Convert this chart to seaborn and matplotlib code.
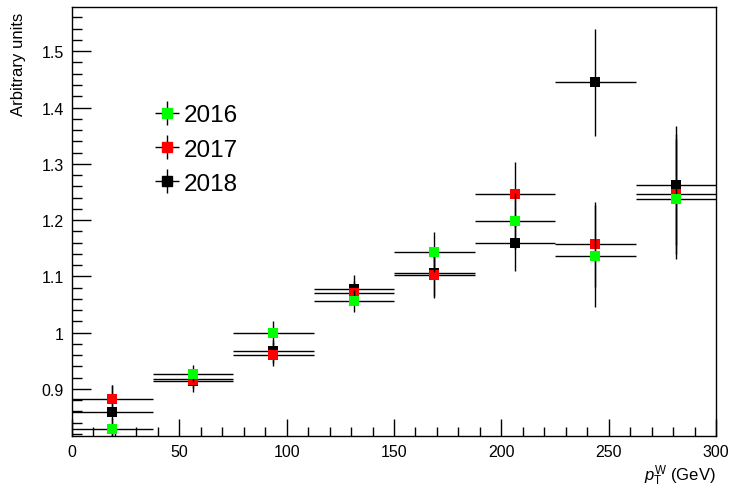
import numpy as np
import pandas as pd
import matplotlib
matplotlib.use("Agg")
import matplotlib.pyplot as plt
from matplotlib.ticker import MultipleLocator
import seaborn as sns

# pT(W) binning: 8 bins of 37.5 GeV between 0 and 300 GeV
bin_centers = [18.75, 56.25, 93.75, 131.25, 168.75, 206.25, 243.75, 281.25]
bin_halfwidth = 18.75

years = ["2016", "2017", "2018"]
colors = {"2016": "#00ff00", "2017": "#ff0000", "2018": "#000000"}

vals_2016 = [0.829, 0.927, 1.000, 1.056, 1.143, 1.198, 1.136, 1.237]
vals_2017 = [0.882, 0.917, 0.961, 1.071, 1.102, 1.246, 1.157, 1.246]
vals_2018 = [0.859, 0.915, 0.967, 1.077, 1.106, 1.159, 1.445, 1.262]

errs_2016 = [0.020, 0.015, 0.020, 0.020, 0.036, 0.050, 0.090, 0.107]
errs_2017 = [0.025, 0.015, 0.020, 0.020, 0.040, 0.058, 0.075, 0.107]
errs_2018 = [0.048, 0.020, 0.020, 0.025, 0.040, 0.050, 0.095, 0.106]

values = {"2016": vals_2016, "2017": vals_2017, "2018": vals_2018}
errors = {"2016": errs_2016, "2017": errs_2017, "2018": errs_2018}

rows = []
for y in years:
    for c, v, e in zip(bin_centers, values[y], errors[y]):
        rows.append({"year": y, "pt": c, "value": v, "err": e})
df = pd.DataFrame(rows)

sns.set_theme(style="ticks")
plt.rcParams["font.family"] = ["Liberation Sans", "DejaVu Sans"]
plt.rcParams["mathtext.fontset"] = "custom"
plt.rcParams["mathtext.it"] = "Liberation Sans:italic"
plt.rcParams["mathtext.rm"] = "Liberation Sans"
plt.rcParams["text.color"] = "black"
plt.rcParams["axes.labelcolor"] = "black"
plt.rcParams["xtick.labelcolor"] = "black"
plt.rcParams["ytick.labelcolor"] = "black"

fig = plt.figure(figsize=(7.32, 4.89), dpi=100)
ax = fig.add_axes([72 / 732, 1 - 436.7 / 489, 644 / 732, (436.7 - 8.3) / 489])

handles = {}
# 2018 underneath, 2016 on top
for z, y in enumerate(["2018", "2017", "2016"]):
    d = df[df["year"] == y]
    ax.errorbar(d["pt"], d["value"], xerr=bin_halfwidth, yerr=d["err"],
                fmt="none", ecolor="black", elinewidth=1.0, capsize=0,
                zorder=2 + 2 * z)
    sns.scatterplot(data=d, x="pt", y="value", marker="s", s=54,
                    color=colors[y], edgecolor="none", linewidth=0,
                    ax=ax, zorder=3 + 2 * z, legend=False)
    handles[y] = ax.errorbar([], [], xerr=[], yerr=[], fmt="s", ms=7.3,
                             mfc=colors[y], mec=colors[y], ecolor="black",
                             elinewidth=1.0, capsize=0)

ax.set_xlim(0, 300)
ax.set_ylim(0.817, 1.578)

ax.xaxis.set_major_locator(MultipleLocator(50))
ax.xaxis.set_minor_locator(MultipleLocator(10))
ax.yaxis.set_major_locator(MultipleLocator(0.1))
ax.yaxis.set_minor_locator(MultipleLocator(0.02))
ax.yaxis.set_major_formatter(matplotlib.ticker.FuncFormatter(lambda v, p: f"{v:g}"))

ax.tick_params(axis="both", which="both", direction="in", color="black",
               labelcolor="black", width=1.0, labelsize=11.5,
               top=False, right=False)
ax.tick_params(axis="y", which="major", length=13.5, pad=6)
ax.tick_params(axis="y", which="minor", length=7)
ax.tick_params(axis="x", which="major", length=12, pad=6)
ax.tick_params(axis="x", which="minor", length=6.5)

for s in ax.spines.values():
    s.set_color("black")
    s.set_linewidth(1.0)

ax.set_ylabel("Arbitrary units", fontsize=12, loc="top", color="black")
ax.yaxis.set_label_coords(-0.071, 0.99)
ax.set_xlabel(r"$p_{\mathrm{T}}^{\mathrm{W}}$ (GeV)", fontsize=12, loc="right",
              color="black")
ax.xaxis.set_label_coords(1.0, -0.062)

leg = ax.legend([handles[y] for y in years], years, loc="upper left",
                bbox_to_anchor=(0.115, 0.796), frameon=False, fontsize=17.5,
                handlelength=0.9, handletextpad=0.25, labelspacing=0.5,
                borderaxespad=0)
for t in leg.get_texts():
    t.set_color("black")

fig.savefig("out.png", dpi=100)
